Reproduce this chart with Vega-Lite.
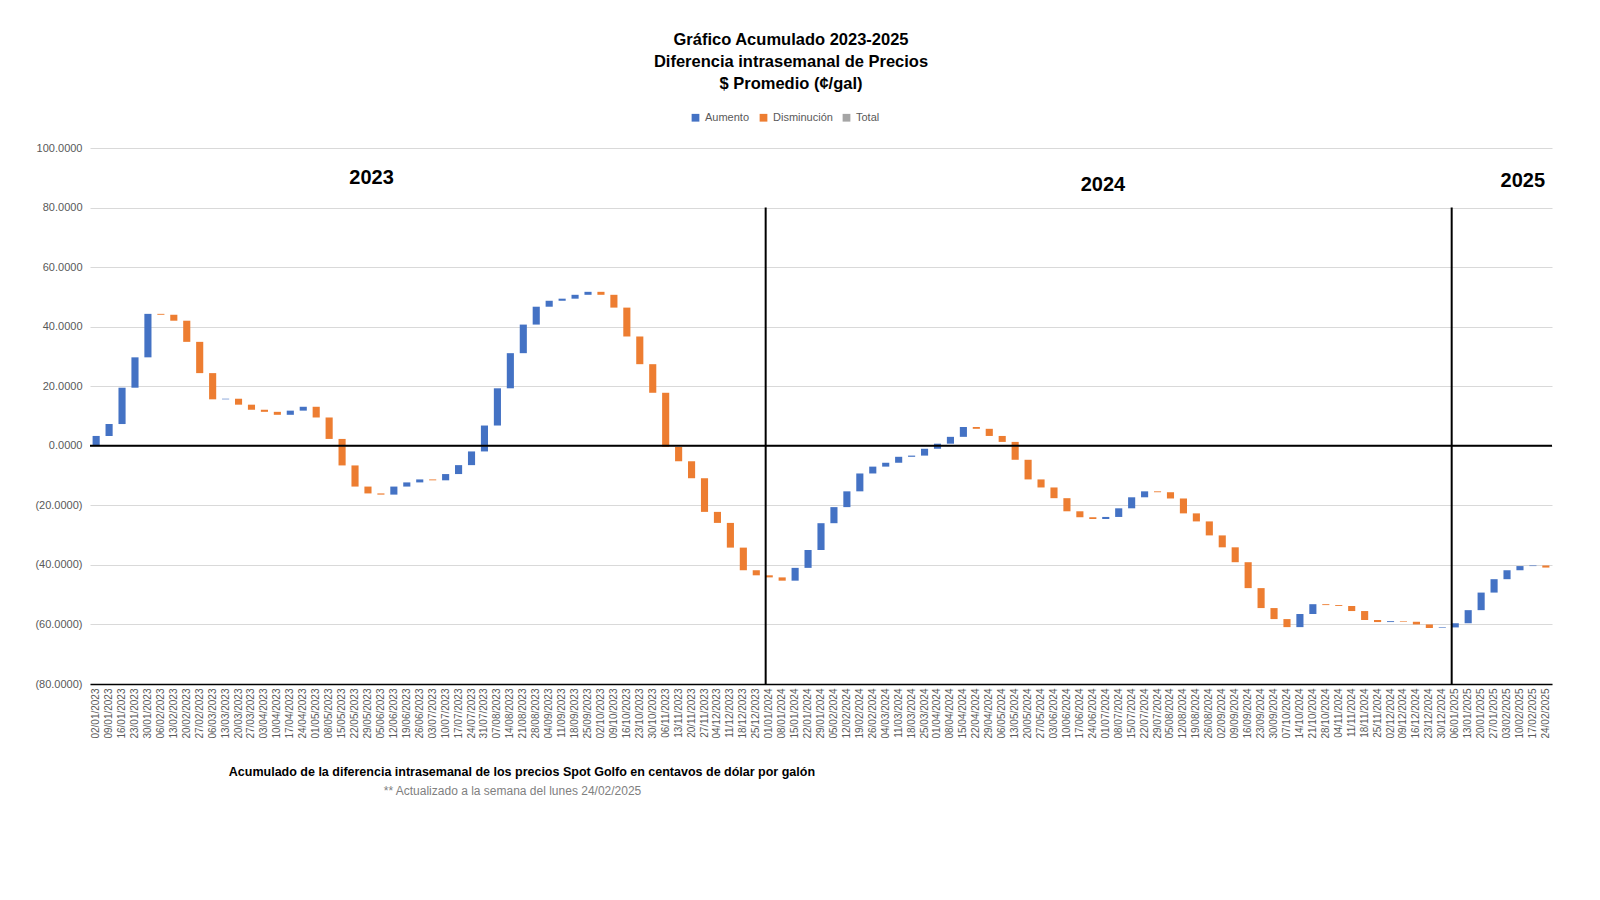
{
  "$schema": "https://vega.github.io/schema/vega-lite/v6.json",
  "width": 1462,
  "height": 536,
  "autosize": "none",
  "padding": {"left": 90, "top": 148, "right": 48, "bottom": 216},
  "background": "white",
  "title": {
    "text": ["Gráfico Acumulado 2023-2025", "Diferencia intrasemanal de Precios", "$ Promedio (¢/gal)"],
    "font": "Liberation Sans",
    "fontSize": 16.5,
    "fontWeight": "bold",
    "lineHeight": 22,
    "color": "#000000",
    "anchor": "middle",
    "dx": -30,
    "offset": 20
  },
  "datasets": {
    "weeks": [
      {"date": "02/01/2023", "start": 0, "end": 3.3},
      {"date": "09/01/2023", "start": 3.3, "end": 7.3},
      {"date": "16/01/2023", "start": 7.3, "end": 19.5},
      {"date": "23/01/2023", "start": 19.5, "end": 29.7},
      {"date": "30/01/2023", "start": 29.7, "end": 44.3},
      {"date": "06/02/2023", "start": 44.3, "end": 44.0},
      {"date": "13/02/2023", "start": 44.0, "end": 42.0},
      {"date": "20/02/2023", "start": 42.0, "end": 34.9},
      {"date": "27/02/2023", "start": 34.9, "end": 24.4},
      {"date": "06/03/2023", "start": 24.4, "end": 15.6},
      {"date": "13/03/2023", "start": 15.6, "end": 15.8},
      {"date": "20/03/2023", "start": 15.8, "end": 13.8},
      {"date": "27/03/2023", "start": 13.8, "end": 12.1},
      {"date": "03/04/2023", "start": 12.1, "end": 11.4},
      {"date": "10/04/2023", "start": 11.4, "end": 10.4},
      {"date": "17/04/2023", "start": 10.4, "end": 11.8},
      {"date": "24/04/2023", "start": 11.8, "end": 13.1},
      {"date": "01/05/2023", "start": 13.1, "end": 9.5},
      {"date": "08/05/2023", "start": 9.5, "end": 2.3},
      {"date": "15/05/2023", "start": 2.3, "end": -6.6},
      {"date": "22/05/2023", "start": -6.6, "end": -13.7},
      {"date": "29/05/2023", "start": -13.7, "end": -16.0},
      {"date": "05/06/2023", "start": -16.0, "end": -16.4},
      {"date": "12/06/2023", "start": -16.4, "end": -13.7},
      {"date": "19/06/2023", "start": -13.7, "end": -12.3},
      {"date": "26/06/2023", "start": -12.3, "end": -11.3},
      {"date": "03/07/2023", "start": -11.3, "end": -11.6},
      {"date": "10/07/2023", "start": -11.6, "end": -9.5},
      {"date": "17/07/2023", "start": -9.5, "end": -6.5},
      {"date": "24/07/2023", "start": -6.5, "end": -1.9},
      {"date": "31/07/2023", "start": -1.9, "end": 6.8},
      {"date": "07/08/2023", "start": 6.8, "end": 19.3},
      {"date": "14/08/2023", "start": 19.3, "end": 31.1},
      {"date": "21/08/2023", "start": 31.1, "end": 40.7},
      {"date": "28/08/2023", "start": 40.7, "end": 46.7},
      {"date": "04/09/2023", "start": 46.7, "end": 48.7},
      {"date": "11/09/2023", "start": 48.7, "end": 49.4},
      {"date": "18/09/2023", "start": 49.4, "end": 50.7},
      {"date": "25/09/2023", "start": 50.7, "end": 51.7},
      {"date": "02/10/2023", "start": 51.7, "end": 50.7},
      {"date": "09/10/2023", "start": 50.7, "end": 46.4},
      {"date": "16/10/2023", "start": 46.4, "end": 36.7},
      {"date": "23/10/2023", "start": 36.7, "end": 27.4},
      {"date": "30/10/2023", "start": 27.4, "end": 17.8},
      {"date": "06/11/2023", "start": 17.8, "end": -0.4},
      {"date": "13/11/2023", "start": -0.4, "end": -5.2},
      {"date": "20/11/2023", "start": -5.2, "end": -10.9},
      {"date": "27/11/2023", "start": -10.9, "end": -22.2},
      {"date": "04/12/2023", "start": -22.2, "end": -25.9},
      {"date": "11/12/2023", "start": -25.9, "end": -34.2},
      {"date": "18/12/2023", "start": -34.2, "end": -41.8},
      {"date": "25/12/2023", "start": -41.8, "end": -43.5},
      {"date": "01/01/2024", "start": -43.5, "end": -44.2},
      {"date": "08/01/2024", "start": -44.2, "end": -45.3},
      {"date": "15/01/2024", "start": -45.3, "end": -41.0},
      {"date": "22/01/2024", "start": -41.0, "end": -35.0},
      {"date": "29/01/2024", "start": -35.0, "end": -26.0},
      {"date": "05/02/2024", "start": -26.0, "end": -20.6},
      {"date": "12/02/2024", "start": -20.6, "end": -15.3},
      {"date": "19/02/2024", "start": -15.3, "end": -9.3},
      {"date": "26/02/2024", "start": -9.3, "end": -7.0},
      {"date": "04/03/2024", "start": -7.0, "end": -5.7},
      {"date": "11/03/2024", "start": -5.7, "end": -3.7},
      {"date": "18/03/2024", "start": -3.7, "end": -3.3},
      {"date": "25/03/2024", "start": -3.3, "end": -1.0},
      {"date": "01/04/2024", "start": -1.0, "end": 0.7},
      {"date": "08/04/2024", "start": 0.7, "end": 3.0},
      {"date": "15/04/2024", "start": 3.0, "end": 6.3},
      {"date": "22/04/2024", "start": 6.3, "end": 5.7},
      {"date": "29/04/2024", "start": 5.7, "end": 3.3},
      {"date": "06/05/2024", "start": 3.3, "end": 1.3},
      {"date": "13/05/2024", "start": 1.3, "end": -4.7},
      {"date": "20/05/2024", "start": -4.7, "end": -11.3},
      {"date": "27/05/2024", "start": -11.3, "end": -14.0},
      {"date": "03/06/2024", "start": -14.0, "end": -17.6},
      {"date": "10/06/2024", "start": -17.6, "end": -22.0},
      {"date": "17/06/2024", "start": -22.0, "end": -24.0},
      {"date": "24/06/2024", "start": -24.0, "end": -24.6},
      {"date": "01/07/2024", "start": -24.6, "end": -23.9},
      {"date": "08/07/2024", "start": -23.9, "end": -21.0},
      {"date": "15/07/2024", "start": -21.0, "end": -17.3},
      {"date": "22/07/2024", "start": -17.3, "end": -15.3},
      {"date": "29/07/2024", "start": -15.3, "end": -15.6},
      {"date": "05/08/2024", "start": -15.6, "end": -17.7},
      {"date": "12/08/2024", "start": -17.7, "end": -22.7},
      {"date": "19/08/2024", "start": -22.7, "end": -25.4},
      {"date": "26/08/2024", "start": -25.4, "end": -30.1},
      {"date": "02/09/2024", "start": -30.1, "end": -34.1},
      {"date": "09/09/2024", "start": -34.1, "end": -39.1},
      {"date": "16/09/2024", "start": -39.1, "end": -47.8},
      {"date": "23/09/2024", "start": -47.8, "end": -54.5},
      {"date": "30/09/2024", "start": -54.5, "end": -58.2},
      {"date": "07/10/2024", "start": -58.2, "end": -60.9},
      {"date": "14/10/2024", "start": -60.9, "end": -56.5},
      {"date": "21/10/2024", "start": -56.5, "end": -53.2},
      {"date": "28/10/2024", "start": -53.2, "end": -53.5},
      {"date": "04/11/2024", "start": -53.5, "end": -53.8},
      {"date": "11/11/2024", "start": -53.8, "end": -55.5},
      {"date": "18/11/2024", "start": -55.5, "end": -58.5},
      {"date": "25/11/2024", "start": -58.5, "end": -59.2},
      {"date": "02/12/2024", "start": -59.2, "end": -58.9},
      {"date": "09/12/2024", "start": -58.9, "end": -59.1},
      {"date": "16/12/2024", "start": -59.1, "end": -60.0},
      {"date": "23/12/2024", "start": -60.0, "end": -61.2},
      {"date": "30/12/2024", "start": -61.2, "end": -61.0},
      {"date": "06/01/2025", "start": -61.0, "end": -59.6},
      {"date": "13/01/2025", "start": -59.6, "end": -55.2},
      {"date": "20/01/2025", "start": -55.2, "end": -49.3},
      {"date": "27/01/2025", "start": -49.3, "end": -44.8},
      {"date": "03/02/2025", "start": -44.8, "end": -41.8},
      {"date": "10/02/2025", "start": -41.8, "end": -40.4},
      {"date": "17/02/2025", "start": -40.4, "end": -40.2},
      {"date": "24/02/2025", "start": -40.2, "end": -40.9}
    ],
    "years": [
      {"label": "2023", "date": "29/05/2023", "pos": 1, "y": 90},
      {"label": "2024", "date": "01/07/2024", "pos": 0.1, "y": 87.7},
      {"label": "2025", "date": "10/02/2025", "pos": 0.9, "y": 89}
    ]
  },
  "data": {"name": "weeks"},
  "encoding": {
    "x": {
      "field": "date",
      "type": "nominal",
      "sort": null,
      "title": null,
      "scale": {"paddingInner": 0.45, "paddingOuter": 0.2},
      "axis": {
        "labelAngle": -90,
        "labelFont": "Liberation Sans",
        "labelFontSize": 10,
        "labelColor": "#595959",
        "ticks": false,
        "domainColor": "#000000",
        "domainWidth": 1.5,
        "labelPadding": 4
      }
    }
  },
  "layer": [
    {
      "transform": [{"calculate": "datum.end >= datum.start ? 'Aumento' : 'Disminución'", "as": "tipo"}],
      "mark": {"type": "bar", "minBandSize": 1},
      "encoding": {
        "y": {
          "field": "start",
          "type": "quantitative",
          "title": null,
          "scale": {"domain": [-80, 100], "nice": false},
          "axis": {
            "values": [-80, -60, -40, -20, 0, 20, 40, 60, 80, 100],
            "labelExpr": "datum.value < 0 ? '(' + format(-datum.value, '.4f') + ')' : format(datum.value, '.4f')",
            "labelFont": "Liberation Sans",
            "labelFontSize": 11,
            "labelColor": "#595959",
            "ticks": false,
            "domain": false,
            "gridColor": "#d9d9d9",
            "labelPadding": 8
          }
        },
        "y2": {"field": "end"},
        "color": {
          "field": "tipo",
          "type": "nominal",
          "title": null,
          "scale": {"domain": ["Aumento", "Disminución", "Total"], "range": ["#4472c4", "#ed7d31", "#a5a5a5"]},
          "legend": {
            "orient": "none",
            "legendX": 600,
            "legendY": -36,
            "direction": "horizontal",
            "symbolType": "square",
            "symbolSize": 60,
            "labelFont": "Liberation Sans",
            "labelFontSize": 11,
            "labelColor": "#595959",
            "columnPadding": 8
          }
        }
      }
    },
    {
      "data": {"values": [{"v": 0}]},
      "mark": {"type": "rule", "color": "#000000", "strokeWidth": 2},
      "encoding": {"x": null, "y": {"field": "v", "type": "quantitative"}}
    },
    {
      "data": {"values": [{"date": "01/01/2024", "a": 80, "b": -80}, {"date": "06/01/2025", "a": 80, "b": -80}]},
      "mark": {"type": "rule", "color": "#000000", "strokeWidth": 2},
      "encoding": {
        "x": {"field": "date", "type": "nominal", "sort": null, "bandPosition": 0},
        "y": {"field": "a", "type": "quantitative"},
        "y2": {"field": "b"}
      }
    },
    {
      "data": {"name": "years"},
      "mark": {"type": "text", "font": "Liberation Sans", "fontSize": 20, "fontWeight": "bold", "color": "#000000", "baseline": "middle"},
      "encoding": {
        "x": {"field": "date", "type": "nominal", "sort": null, "bandPosition": {"field": "pos"}},
        "y": {"field": "y", "type": "quantitative"},
        "text": {"field": "label"}
      }
    },
    {
      "data": {"values": [
        {"date": "13/03/2023", "y": -109.6, "t": "Acumulado de la diferencia intrasemanal de los precios Spot Golfo en centavos de dólar por galón"}
      ]},
      "mark": {"type": "text", "font": "Liberation Sans", "fontSize": 12.5, "align": "left", "baseline": "middle", "clip": false, "fontWeight": "bold", "color": "#000000"},
      "encoding": {
        "x": {"field": "date", "type": "nominal", "sort": null, "bandPosition": 0.95},
        "y": {"field": "y", "type": "quantitative"},
        "text": {"field": "t"}
      }
    },
    {
      "data": {"values": [
        {"date": "05/06/2023", "y": -116, "t": "** Actualizado a la semana del lunes 24/02/2025"}
      ]},
      "mark": {"type": "text", "font": "Liberation Sans", "fontSize": 12, "align": "left", "baseline": "middle", "clip": false, "color": "#808080"},
      "encoding": {
        "x": {"field": "date", "type": "nominal", "sort": null, "bandPosition": 0.9},
        "y": {"field": "y", "type": "quantitative"},
        "text": {"field": "t"}
      }
    }
  ],
  "config": {"view": {"stroke": null}}
}
